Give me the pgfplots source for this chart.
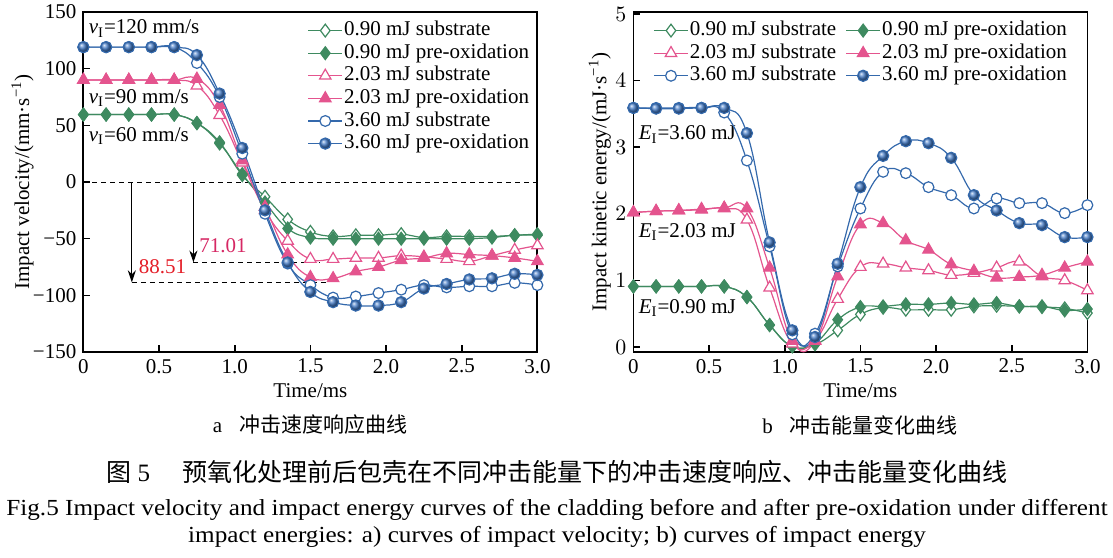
\documentclass[border=0pt]{standalone}
\usepackage{fontspec}
\setmainfont{Liberation Serif}
\newfontfamily\cjk{Noto Sans CJK SC}
\usepackage{pgfplots}
\pgfplotsset{compat=1.18}
\usepackage{pgfplotstable}
\usetikzlibrary{arrows.meta}

\definecolor{grn}{RGB}{62,138,96}
\definecolor{pnk}{RGB}{228,84,142}
\definecolor{blu}{RGB}{52,105,172}
\definecolor{ballblu}{RGB}{70,125,200}
\definecolor{lblred}{RGB}{228,30,40}
\definecolor{lblpink}{RGB}{214,40,100}
\newcommand\fs{\fontsize{10.5}{12}\selectfont}

\pgfplotstableread{
t    s090 p090 s203 p203 s360 p360
0.00  59.5  59.5  90  90  119  119
0.15  59.5  59.5  90  90  119  119
0.30  59.5  59.5  90  90  119  119
0.45  59.5  59.5  90  90  119  119
0.60  59.5  59.5  90  90  119  119
0.75  52    52    85  91  105  112
0.90  35    34    59  68   75   78
1.05   6     7    17  19   25   30
1.20 -13   -18   -25 -22  -28  -25
1.35 -33   -41   -52 -64  -72  -71
1.50 -44   -49   -68 -84  -91  -97
1.65 -48   -50   -68 -85 -102 -106
1.80 -47   -50   -67 -79 -101 -109
1.95 -47   -50   -67 -75  -98 -109
2.10 -46   -50   -65 -69  -95 -106
2.25 -49   -50   -66 -67  -91  -94
2.40 -48   -50   -68 -63  -93  -90
2.55 -48   -50   -70 -64  -92  -86
2.70 -48   -49   -65 -65  -92  -85
2.85 -47   -47   -60 -67  -89  -81
3.00 -46   -47   -56 -70  -91  -82
}\veltab

\pgfplotstableread{
t    s090 p090 s203 p203 s360 p360
0.00 0.91 0.91 2.02 2.02 3.59 3.59
0.15 0.91 0.91 2.04 2.04 3.59 3.58
0.30 0.91 0.91 2.05 2.05 3.59 3.58
0.45 0.91 0.91 2.06 2.07 3.59 3.59
0.60 0.91 0.91 2.08 2.09 3.52 3.59
0.75 0.75 0.75 1.91 2.08 2.80 3.21
0.90 0.33 0.33 0.89 1.19 1.51 1.57
1.05 0.01 0.01 0.05 0.09 0.19 0.25
1.20 0.04 0.06 0.10 0.09 0.20 0.15
1.35 0.25 0.41 0.72 1.06 1.21 1.25
1.50 0.49 0.60 1.20 1.84 2.08 2.40
1.65 0.59 0.61 1.25 1.86 2.63 2.87
1.80 0.56 0.64 1.19 1.60 2.61 3.09
1.95 0.56 0.64 1.15 1.46 2.40 3.06
2.10 0.56 0.66 1.08 1.24 2.28 2.84
2.25 0.61 0.64 1.11 1.14 2.08 2.28
2.40 0.62 0.66 1.19 1.04 2.23 2.05
2.55 0.61 0.61 1.28 1.05 2.16 1.86
2.70 0.60 0.61 1.06 1.08 2.16 1.83
2.85 0.58 0.55 1.00 1.19 2.01 1.65
3.00 0.51 0.57 0.85 1.28 2.13 1.65
}\entab

\pgfplotsset{
  base/.style={
    width=227pt, height=170pt, scale only axis,
    xmin=0, xmax=3,
    xtick={0,0.5,1,1.5,2,2.5,3},
    xticklabels={0,0.5,1.0,1.5,2.0,2.5,3.0},
    tick pos=left, tick align=inside,
    major tick length=3.5pt,
    axis line style={line width=0.9pt},
    every tick/.style={black, line width=0.8pt},
    tick label style={font=\fs},
    label style={font=\fs},
    every axis x label/.style={at={(axis description cs:0.5,0)}, anchor=center, yshift=-19.5pt},
    xlabel={Time/ms},
    legend cell align=left,
    legend style={draw=none, fill=none, font=\fs, inner sep=0pt,
      nodes={inner sep=0.6pt, text height=7.3pt, text depth=2.2pt}, row sep=0.6pt},
  },
  ln/.style={line width=0.6pt, smooth, tension=0.75},
  s090/.style={color=grn, ln, mark=diamond*, mark size=3.2pt, mark options={fill=white, solid, line width=0.6pt}},
  p090/.style={color=grn, ln, mark=diamond*, mark size=3.2pt, mark options={fill=grn, solid}},
  s203/.style={color=pnk, ln, mark=triangle*, mark size=3.3pt, mark options={fill=white, solid, line width=0.6pt}},
  p203/.style={color=pnk, ln, mark=triangle*, mark size=3.3pt, mark options={fill=pnk, solid}},
  s360/.style={color=blu, ln, mark=*, mark size=2.7pt, mark options={fill=white, solid, line width=0.6pt}},
  p360/.style={color=blu, ln, mark=ball, mark size=2.8pt, mark options={ball color=ballblu}},
}

\begin{document}
\begin{tikzpicture}[font=\fs]
\useasboundingbox (0,0) rectangle (556.5pt,-278.5pt);

% ---------- left: velocity ----------
\begin{axis}[base,
  at={(41.7pt,-176pt)}, anchor=south west,
  ymin=-150, ymax=150,
  ytick={-150,-100,-50,0,50,100,150},
  yticklabels={−150,−100,−50,0,50,100,150},
  every axis y label/.style={at={(axis description cs:-0.134,0.5)}, rotate=90, anchor=center},
  ylabel={Impact velocity/(mm·s\textsuperscript{−1})},
  legend style={at={(0.493,0.978)}, anchor=north west},
]
\draw[dash pattern=on 2.5pt off 2pt, line width=0.5pt] (axis cs:0,0) -- (axis cs:3,0);
\draw[dash pattern=on 2.5pt off 2pt, line width=0.5pt] (axis cs:0.727,-71.01) -- (axis cs:1.56,-71.01);
\draw[dash pattern=on 2.5pt off 2pt, line width=0.5pt] (axis cs:0.32,-88.51) -- (axis cs:1.60,-88.51);
\draw[line width=0.5pt, -{Stealth[length=6pt,width=4pt]}] (axis cs:0.727,0) -- (axis cs:0.727,-71.01);
\draw[line width=0.5pt, -{Stealth[length=6pt,width=4pt]}] (axis cs:0.32,0) -- (axis cs:0.32,-88.51);
\node[anchor=west, text=lblpink, inner sep=1pt] at (axis cs:0.75,-56) {71.01};
\node[anchor=east, text=lblred, inner sep=1pt] at (axis cs:0.695,-75) {88.51};
\node[anchor=west, inner sep=1pt] at (axis cs:0.02,135.5) {\textit{v}\textsubscript{I}=120 mm/s};
\node[anchor=west, inner sep=1pt] at (axis cs:0.02,74) {\textit{v}\textsubscript{I}=90 mm/s};
\node[anchor=west, inner sep=1pt] at (axis cs:0.02,40.4) {\textit{v}\textsubscript{I}=60 mm/s};

\addplot[s090] table[x=t, y=s090] {\veltab};
\addlegendentry{0.90 mJ substrate}
\addplot[p090] table[x=t, y=p090] {\veltab};
\addlegendentry{0.90 mJ pre-oxidation}
\addplot[s203] table[x=t, y=s203] {\veltab};
\addlegendentry{2.03 mJ substrate}
\addplot[p203] table[x=t, y=p203] {\veltab};
\addlegendentry{2.03 mJ pre-oxidation}
\addplot[s360] table[x=t, y=s360] {\veltab};
\addlegendentry{3.60 mJ substrate}
\addplot[p360] table[x=t, y=p360] {\veltab};
\addlegendentry{3.60 mJ pre-oxidation}
\end{axis}

% ---------- right: energy ----------
\begin{axis}[base,
  at={(316.7pt,-176pt)}, anchor=south west,
  ymin=-0.075, ymax=5.03,
  ytick={0,1,2,3,4,5},
  every axis y label/.style={at={(axis description cs:-0.074,0.5)}, rotate=90, anchor=center},
  ylabel={Impact kinetic energy/(mJ·s\textsuperscript{−1})},
  legend columns=2,
  legend style={at={(0.043,0.978)}, anchor=north west,
    /tikz/every even column/.append style={column sep=4pt}},
]
\node[anchor=west, inner sep=1pt] at (axis cs:0.02,3.19) {\textit{E}\textsubscript{I}=3.60 mJ};
\node[anchor=west, inner sep=1pt] at (axis cs:0.02,1.73) {\textit{E}\textsubscript{I}=2.03 mJ};
\node[anchor=west, inner sep=1pt] at (axis cs:0.02,0.59) {\textit{E}\textsubscript{I}=0.90 mJ};

\addplot[s090] table[x=t, y=s090] {\entab};
\addlegendentry{0.90 mJ substrate}
\addplot[p090] table[x=t, y=p090] {\entab};
\addlegendentry{0.90 mJ pre-oxidation}
\addplot[s203] table[x=t, y=s203] {\entab};
\addlegendentry{2.03 mJ substrate}
\addplot[p203] table[x=t, y=p203] {\entab};
\addlegendentry{2.03 mJ pre-oxidation}
\addplot[s360] table[x=t, y=s360] {\entab};
\addlegendentry{3.60 mJ substrate}
\addplot[p360] table[x=t, y=p360] {\entab};
\addlegendentry{3.60 mJ pre-oxidation}
\end{axis}

% ---------- sub captions and caption ----------
\node at (155pt,-212.5pt) {a\hspace{0.8em}{\cjk 冲击速度响应曲线}};
\node at (430pt,-212.5pt) {b\hspace{0.8em}{\cjk 冲击能量变化曲线}};
\node[font=\fontsize{12.5}{14}\selectfont] at (278.5pt,-236pt) {{\cjk 图} 5\hspace{1.3em}{\cjk 预氧化处理前后包壳在不同冲击能量下的冲击速度响应、冲击能量变化曲线}};
\node[font=\fontsize{11.5}{13}\selectfont, inner sep=0pt] at (278.5pt,-255pt) {\scalebox{1.095}[1]{Fig.5 Impact velocity and impact energy curves of the cladding before and after pre-oxidation under different}};
\node[font=\fontsize{11.5}{13}\selectfont, inner sep=0pt] at (278.5pt,-268.5pt) {\scalebox{1.095}[1]{impact energies: a) curves of impact velocity; b) curves of impact energy}};
\end{tikzpicture}
\end{document}
